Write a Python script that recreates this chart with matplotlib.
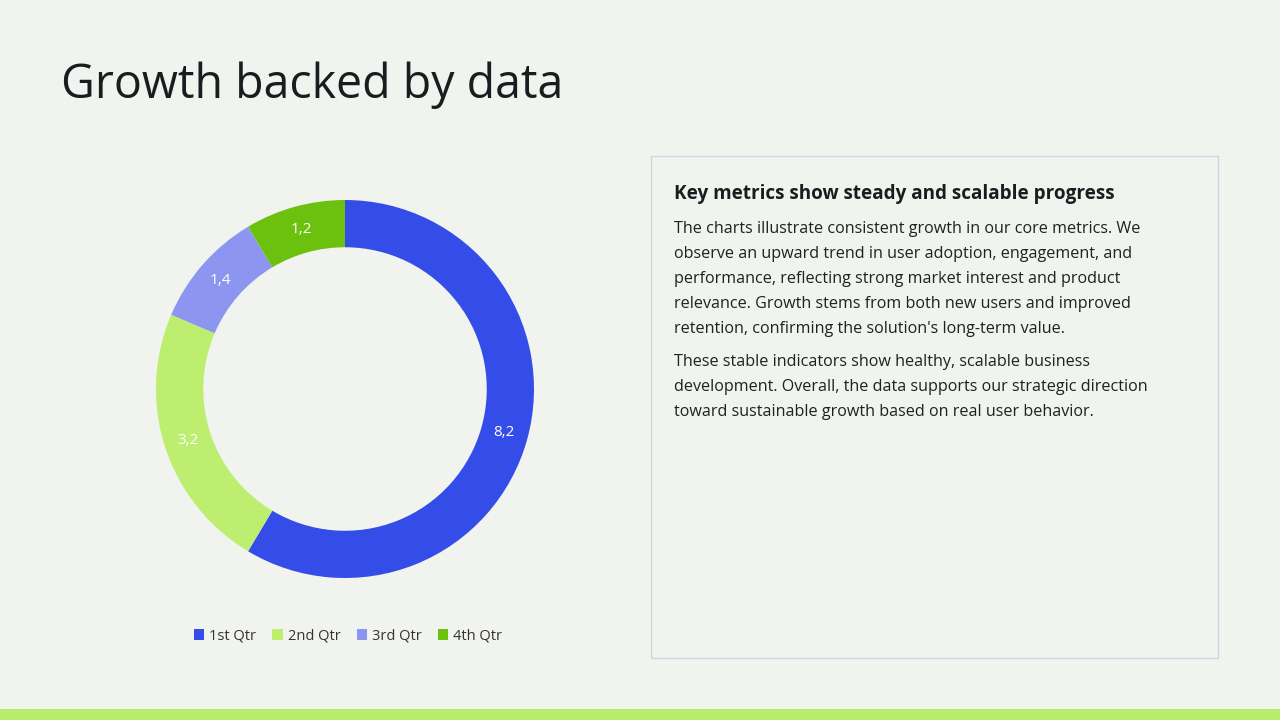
import matplotlib
matplotlib.use("Agg")
import matplotlib.pyplot as plt
from matplotlib.patches import Rectangle, Patch
import numpy as np

categories = ["1st Qtr", "2nd Qtr", "3rd Qtr", "4th Qtr"]
values = [8.2, 3.2, 1.4, 1.2]
value_labels = ["8,2", "3,2", "1,4", "1,2"]
colors = ["#344de8", "#bdee70", "#8c96f0", "#6cc00e"]

title = "Growth backed by data"
box_heading = "Key metrics show steady and scalable progress"
para1 = ["The charts illustrate consistent growth in our core metrics. We",
         "observe an upward trend in user adoption, engagement, and",
         "performance, reflecting strong market interest and product",
         "relevance. Growth stems from both new users and improved",
         "retention, confirming the solution's long-term value."]
para2 = ["These stable indicators show healthy, scalable business",
         "development. Overall, the data supports our strategic direction",
         "toward sustainable growth based on real user behavior."]

BG = "#f1f3ef"
W, H = 1280, 720
fig = plt.figure(figsize=(W / 100, H / 100), dpi=100, facecolor=BG)

def fx(x):
    return x / W

def fy(y):
    return 1 - y / H

FAM = ["Open Sans", "DejaVu Sans"]

# Title
fig.text(fx(61), fy(85), title, fontsize=33.5, color="#1a1c20",
         family=FAM, va="center", ha="left")

# Donut
cx, cy, R = 345, 389, 189
ax = fig.add_axes([fx(cx - R), fy(cy + R), 2 * R / W, 2 * R / H])
ax.set_facecolor(BG)
inner = 0.75
wedges, _ = ax.pie(values, colors=colors, startangle=90, counterclock=False,
                   radius=1.0, wedgeprops=dict(width=1 - inner, edgecolor="none"))
total = sum(values)
start = 90.0
rmid = (1 + inner) / 2
for v, lab in zip(values, value_labels):
    ang = start - v / total * 360 / 2
    start -= v / total * 360
    a = np.deg2rad(ang)
    ax.text(rmid * np.cos(a), rmid * np.sin(a), lab, ha="center", va="center",
            color="white", fontsize=11, family=FAM)
ax.set_xlim(-1, 1)
ax.set_ylim(-1, 1)
ax.set_aspect("equal")
ax.axis("off")

# Legend
handles = [Patch(facecolor=c, edgecolor="none") for c in colors]
fig.legend(handles, categories, loc="center", bbox_to_anchor=(fx(348), fy(636)),
           ncol=4, frameon=False, handlelength=0.7, handleheight=0.7,
           handletextpad=0.35, columnspacing=1.1,
           prop={"family": FAM, "size": 10.5},
           labelcolor="#333333")

# Text box
box = Rectangle((fx(651), fy(658)), fx(1218) - fx(651), fy(156) - fy(658),
                transform=fig.transFigure, facecolor="none", edgecolor="#d2d5df",
                linewidth=1.0)
fig.add_artist(box)
fig.text(fx(674), fy(194), box_heading, fontsize=13.6, fontweight="bold",
         color="#1a1c20", family=FAM, va="center", ha="left")
ytop = 229
for i, line in enumerate(para1):
    fig.text(fx(674), fy(ytop + 25 * i), line, fontsize=11.6, color="#1f2125",
             family=FAM, va="center", ha="left")
ytop2 = 362
for i, line in enumerate(para2):
    fig.text(fx(674), fy(ytop2 + 25 * i), line, fontsize=11.6, color="#1f2125",
             family=FAM, va="center", ha="left")

# Bottom bar
bar = Rectangle((0, 0), 1, fy(709), transform=fig.transFigure,
                facecolor="#b8ec6c", edgecolor="none")
fig.add_artist(bar)

fig.savefig("out.png", dpi=100, facecolor=BG)
